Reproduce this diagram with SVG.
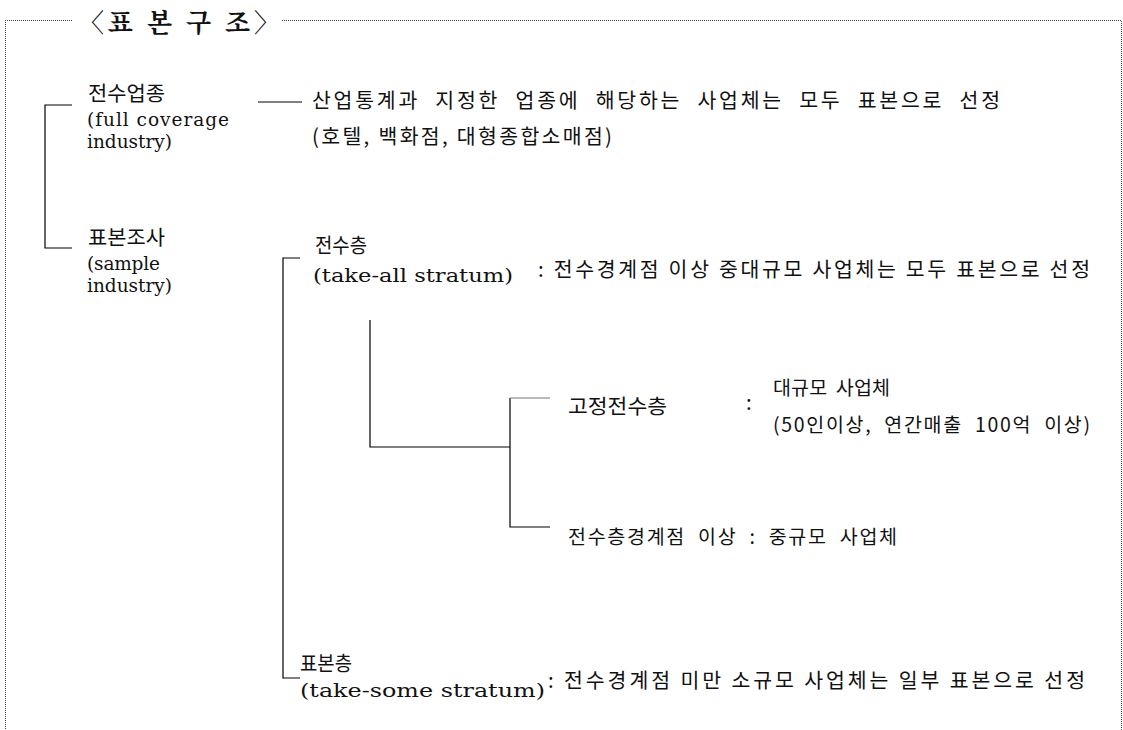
<svg xmlns="http://www.w3.org/2000/svg" width="1123" height="730" viewBox="0 0 1123 730">
<style>
.k{font-family:"Noto Sans CJK KR","Noto Sans",sans-serif;font-size:20.5px;fill:#111}
.m{font-family:"Noto Sans CJK KR","Noto Sans",sans-serif;font-size:19.5px;fill:#111}
.s{font-family:"DejaVu Serif","Liberation Serif",serif;font-size:18.5px;fill:#111}
.t{font-family:"Noto Serif CJK KR","Noto Sans CJK KR",serif;font-size:26px;font-weight:bold;fill:#111}
.b{stroke:#444;stroke-width:1;stroke-dasharray:1 1;fill:none}
.c{stroke:#000;stroke-width:1.2;fill:none}
</style>
<rect width="1123" height="730" fill="#fff"/>
<g id="frame">
<path class="b" d="M5 20.5 H72 M282 20.5 H1121.5 V730 M5.5 20 V730"/>
</g>
<g id="title"><text class="t" x="78" y="32" textLength="202" lengthAdjust="spacing">〈표 본 구 조〉</text></g>
<g id="connectors">
<path class="c" d="M72 105 H45 V248 H72"/>
<path class="c" d="M258 102 H302"/>
<path class="c" d="M300 258 H283 V678 H300"/>
<path class="c" d="M370 320 V447 H510"/>
<path class="c" d="M550 527 H510 V398"/>
<path d="M510 398 H550" stroke="#777" stroke-width="1.2"/>
</g>
<g id="full">
<text class="k" x="88" y="101" textLength="77" lengthAdjust="spacingAndGlyphs">전수업종</text>
<text class="s" x="87" y="126" textLength="142" lengthAdjust="spacing">(full coverage</text>
<text class="s" x="87" y="148" textLength="85" lengthAdjust="spacing">industry)</text>
</g>
<g id="full-desc">
<text class="k" x="312" y="108" textLength="688" lengthAdjust="spacing" word-spacing="8">산업통계과 지정한 업종에 해당하는 사업체는 모두 표본으로 선정</text>
<text class="k" x="312" y="144" textLength="300" lengthAdjust="spacing">(호텔, 백화점, 대형종합소매점)</text>
</g>
<g id="sample">
<text class="k" x="88" y="245" textLength="77" lengthAdjust="spacingAndGlyphs">표본조사</text>
<text class="s" x="87" y="270" textLength="73" lengthAdjust="spacing">(sample</text>
<text class="s" x="87" y="292" textLength="85" lengthAdjust="spacing">industry)</text>
</g>
<g id="take-all">
<text class="k" x="315" y="253" textLength="52" lengthAdjust="spacingAndGlyphs">전수층</text>
<text class="s" x="313" y="282" textLength="200" lengthAdjust="spacingAndGlyphs">(take-all stratum)</text>
<text class="k" x="538" y="277" textLength="552" lengthAdjust="spacing">: 전수경계점 이상 중대규모 사업체는 모두 표본으로 선정</text>
</g>
<g id="fixed">
<text class="k" x="568" y="414" textLength="99" lengthAdjust="spacingAndGlyphs">고정전수층</text>
<text class="k" x="746" y="410">:</text>
<text class="m" x="773" y="395" textLength="117" lengthAdjust="spacing" word-spacing="4">대규모 사업체</text>
<text class="m" x="773" y="432" textLength="317" lengthAdjust="spacing" word-spacing="6">(50인이상, 연간매출 100억 이상)</text>
</g>
<g id="mid">
<text class="m" x="568" y="544" textLength="329" lengthAdjust="spacing" word-spacing="6">전수층경계점 이상 : 중규모 사업체</text>
</g>
<g id="take-some">
<text class="k" x="300" y="671" textLength="52" lengthAdjust="spacingAndGlyphs">표본층</text>
<text class="s" x="300" y="697" textLength="245" lengthAdjust="spacingAndGlyphs">(take-some stratum)</text>
<text class="k" x="548" y="688" textLength="537" lengthAdjust="spacing">: 전수경계점 미만 소규모 사업체는 일부 표본으로 선정</text>
</g>
</svg>
